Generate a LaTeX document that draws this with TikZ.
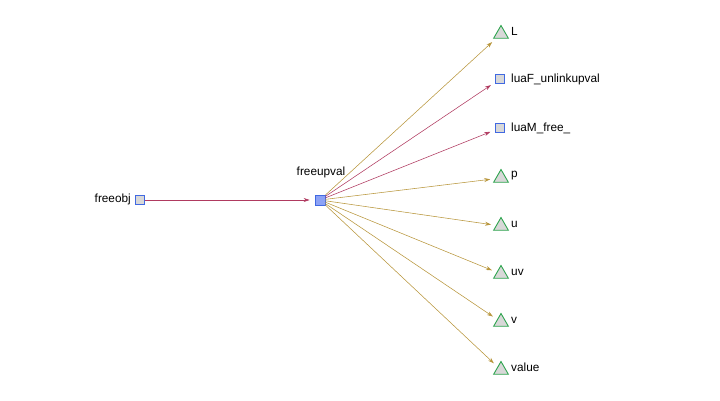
\documentclass[tikz,border=0pt]{standalone}
\usepackage{fontspec}
\setmainfont{Liberation Sans}
\usetikzlibrary{shapes.geometric,arrows.meta}
\definecolor{nodeblue}{HTML}{4169E1}
\definecolor{nodegrey}{HTML}{D8D8D8}
\definecolor{hubfill}{HTML}{8CA2F5}
\definecolor{trigreen}{HTML}{2EA44F}
\definecolor{redge}{HTML}{B03A60}
\definecolor{gedge}{HTML}{B8963C}
\tikzset{
  sq/.style={draw=nodeblue, fill=nodegrey, line width=0.9pt, minimum size=9pt, inner sep=0pt, rectangle},
  hub/.style={sq, fill=hubfill, minimum size=10pt},
  tri/.style={draw=trigreen, fill=nodegrey, line width=0.9pt, regular polygon, regular polygon sides=3, minimum size=17pt, inner sep=0pt},
  txt/.style={font=\fontsize{11.8}{13}\selectfont, inner sep=0pt},
  lbl/.style={txt, anchor=west},
  redarr/.style={draw=redge, line width=0.55pt, -{Stealth[length=6pt,width=4pt]}, shorten >=5pt},
  goldarr/.style={draw=gedge, line width=0.55pt, -{Stealth[length=6pt,width=4pt]}, shorten >=5pt}
}
\begin{document}
\begin{tikzpicture}[x=1pt,y=-1pt]
\useasboundingbox (0,0) rectangle (720,400);
\node[sq] (fo) at (140,200) {};
\node[txt, anchor=east] (folbl) at (131,199) {freeobj};
\node[hub] (fu) at (320,200) {};
\node[txt] (fulbl) at (321,172) {freeupval};

\node[tri] (L) at (501,34) {};
\node[lbl] (Ll) at (511,31) {L};
\node[sq] (lF) at (500,79) {};
\node[lbl] (lFl) at (511,79) {luaF\_unlinkupval};
\node[sq] (lM) at (500,128) {};
\node[lbl] (lMl) at (511,128) {luaM\_free\_};
\node[tri] (p) at (501,178) {};
\node[lbl] (pl) at (511,176) {p};
\node[tri] (u) at (501,226) {};
\node[lbl] (ul) at (511,224) {u};
\node[tri] (uv) at (501,274) {};
\node[lbl] (uvl) at (511,272) {uv};
\node[tri] (v) at (501,322) {};
\node[lbl] (vl) at (511,320) {v};
\node[tri] (val) at (501,370) {};
\node[lbl] (vall) at (511,367) {value};

\draw[redarr] (fo) -- (fu);
\draw[goldarr] (fu) -- (L);
\draw[redarr] (fu) -- (lF);
\draw[redarr] (fu) -- (lM);
\draw[goldarr] (fu) -- (p);
\draw[goldarr] (fu) -- (u);
\draw[goldarr] (fu) -- (uv);
\draw[goldarr] (fu) -- (v);
\draw[goldarr] (fu) -- (val);
\end{tikzpicture}
\end{document}
